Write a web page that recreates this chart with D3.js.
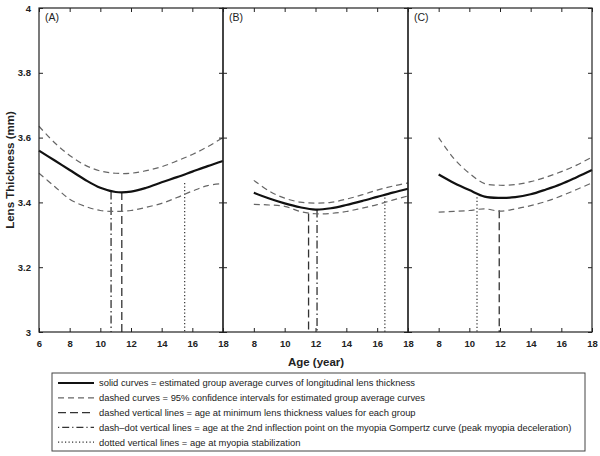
<!DOCTYPE html>
<html><head><meta charset="utf-8">
<script src="https://cdn.jsdelivr.net/npm/d3@7"></script>
<style>body{margin:0;background:#fff}svg{display:block}text{font-family:"Liberation Sans",Arial,sans-serif}</style>
</head><body><svg id="c" width="600" height="456"></svg>
<script>
// ---- data ----
const panelLabels = ["(A)", "(B)", "(C)"];
const agesA = [6,7,8,9,10,11,12,13,14,15,16,17,18];
const agesBC = [8,9,10,11,12,13,14,15,16,17,18];
const meanA  = [3.56,3.53,3.50,3.47,3.445,3.432,3.433,3.445,3.462,3.478,3.495,3.512,3.528];
const upperA = [3.635,3.585,3.545,3.515,3.497,3.49,3.49,3.498,3.51,3.528,3.548,3.572,3.60];
const lowerA = [3.49,3.45,3.41,3.388,3.375,3.372,3.375,3.385,3.397,3.415,3.435,3.452,3.458];
const meanB  = [3.43,3.412,3.397,3.385,3.378,3.382,3.392,3.404,3.417,3.43,3.442];
const upperB = [3.468,3.435,3.413,3.401,3.398,3.40,3.41,3.423,3.438,3.45,3.46];
const lowerB = [3.394,3.392,3.388,3.372,3.365,3.366,3.372,3.382,3.393,3.407,3.42];
const meanC  = [3.486,3.46,3.438,3.418,3.414,3.416,3.425,3.44,3.457,3.478,3.50];
const upperC = [3.60,3.535,3.49,3.458,3.453,3.455,3.464,3.478,3.495,3.515,3.54];
const lowerC = [3.37,3.372,3.375,3.38,3.373,3.38,3.39,3.403,3.42,3.44,3.46];
// vertical lines: [age, top value]
const minAgeLines   = [[11.4,3.432],[11.55,3.366],[11.95,3.376]];   // dashed
const inflectLines  = [[10.7,3.434],[12.1,3.378],null];             // dash-dot
const stabLines     = [[15.5,3.46],[16.5,3.415],[10.5,3.416]];     // dotted
const yTicks = [3,3.2,3.4,3.6,3.8,4];
const xTicksA = [6,8,10,12,14,16,18];
const xTicksBC = [8,10,12,14,16,18];
const legendItems = [
  "solid curves = estimated group average curves of longitudinal lens thickness",
  "dashed curves = 95% confidence intervals for estimated group average curves",
  "dashed vertical lines = age at minimum lens thickness values for each group",
  "dash\u2013dot vertical lines = age at the 2nd inflection point on the myopia Gompertz curve (peak myopia deceleration)",
  "dotted vertical lines = age at myopia stabilization"
];
const yTitle = "Lens Thickness (mm)";
const xTitle = "Age (year)";

const panels = [
  {ages: agesA, mean: meanA, upper: upperA, lower: lowerA, xt: xTicksA},
  {ages: agesBC, mean: meanB, upper: upperB, lower: lowerB, xt: xTicksBC},
  {ages: agesBC, mean: meanC, upper: upperC, lower: lowerC, xt: xTicksBC}
];

const svg = d3.select("#c");
const plotTop = 8, plotBottom = 332;
const bounds = [[39,223],[223,408],[408,592]];
const y = d3.scaleLinear().domain([3,4]).range([plotBottom, plotTop]);
const gray = "#666";
const dark = "#333";

panels.forEach((p, i) => {
  const [x0, x1] = bounds[i];
  const x = d3.scaleLinear().domain([6,18]).range([x0, x1]);
  const g = svg.append("g");
  const line = (vals) => d3.line().x((d,j)=>x(p.ages[j])).y(d=>y(d)).curve(d3.curveCatmullRom.alpha(0.5))(vals);

  const vl = (def, dash, w) => {
    if (!def) return;
    g.append("line").attr("x1", x(def[0])).attr("x2", x(def[0]))
      .attr("y1", y(def[1])).attr("y2", y(3))
      .attr("stroke", dark).attr("stroke-width", w).attr("stroke-dasharray", dash);
  };
  vl(minAgeLines[i], "8,4", 1.3);
  vl(inflectLines[i], "8,3,1.5,3", 1.3);
  vl(stabLines[i], "1.2,2.3", 1.2);

  g.append("path").attr("d", line(p.upper)).attr("fill","none").attr("stroke",gray).attr("stroke-width",1.2).attr("stroke-dasharray","6,4");
  g.append("path").attr("d", line(p.lower)).attr("fill","none").attr("stroke",gray).attr("stroke-width",1.2).attr("stroke-dasharray","6,4");
  g.append("path").attr("d", line(p.mean)).attr("fill","none").attr("stroke","#111").attr("stroke-width",2.2);

  const ax = g.append("g").attr("transform",`translate(0,${plotBottom})`)
    .call(d3.axisBottom(x).tickValues(p.xt).tickSizeInner(-4).tickSizeOuter(0).tickPadding(8).tickFormat(d3.format("d")));
  const axT = g.append("g").attr("transform",`translate(0,${plotTop})`)
    .call(d3.axisTop(x).tickValues(p.xt).tickSizeInner(-4).tickSizeOuter(0).tickFormat(""));
  const axL = g.append("g").attr("transform",`translate(${x0},0)`)
    .call(d3.axisLeft(y).tickValues(yTicks).tickSizeInner(-4).tickSizeOuter(0).tickPadding(8)
      .tickFormat(i===0 ? d3.format("") : ""));
  const axR = g.append("g").attr("transform",`translate(${x1},0)`)
    .call(d3.axisRight(y).tickValues(yTicks).tickSizeInner(-4).tickSizeOuter(0).tickFormat(""));
  [ax, axT, axL, axR].forEach(a => {
    a.select(".domain").remove();
    a.selectAll("line").attr("stroke","#222");
    a.selectAll("text").attr("font-size", 9.5).attr("fill","#222").attr("font-family","Liberation Sans, Arial, sans-serif").attr("font-weight","bold");
  });
  g.append("rect").attr("x", x0).attr("y", plotTop).attr("width", x1-x0).attr("height", plotBottom-plotTop)
    .attr("fill","none").attr("stroke","#222").attr("stroke-width",1.2);
  g.append("text").attr("x", x0+6).attr("y", plotTop+13).attr("font-size",10.5).attr("fill","#222").text(panelLabels[i]);
});

svg.append("text").attr("transform","translate(14,170) rotate(-90)").attr("text-anchor","middle")
  .attr("font-size",11.5).attr("font-weight","bold").attr("fill","#222").text(yTitle);
svg.append("text").attr("x",316).attr("y",366).attr("text-anchor","middle")
  .attr("font-size",11.5).attr("font-weight","bold").attr("fill","#222").text(xTitle);

const lg = svg.append("g");
lg.append("rect").attr("x",52).attr("y",373).attr("width",533).attr("height",78)
  .attr("fill","#fff").attr("stroke","#444").attr("stroke-width",1);
const styles = [
  {w:2.2, dash:null, c:"#111"},
  {w:1.2, dash:"6,4", c:gray},
  {w:1.2, dash:"8,4", c:dark},
  {w:1.2, dash:"1.2,3,7,3", c:dark},
  {w:1.2, dash:"1.2,2.3", c:dark}
];
legendItems.forEach((t, i) => {
  const yy = 383 + i*14.8;
  const s = styles[i];
  lg.append("line").attr("x1",58).attr("x2",94).attr("y1",yy).attr("y2",yy)
    .attr("stroke",s.c).attr("stroke-width",s.w).attr("stroke-dasharray",s.dash);
  lg.append("text").attr("x",99).attr("y",yy+3.3).attr("font-size",9.4).attr("fill","#222").text(t);
});
</script></body></html>
